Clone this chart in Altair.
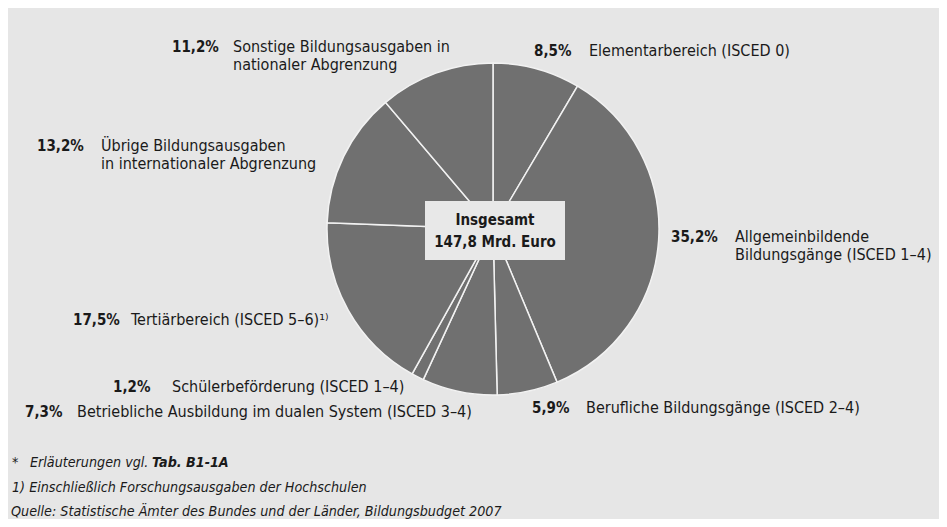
import altair as alt
import pandas as pd

# ---- data ----
categories = [
    "Elementarbereich (ISCED 0)",
    "Allgemeinbildende\nBildungsgänge (ISCED 1–4)",
    "Berufliche Bildungsgänge (ISCED 2–4)",
    "Betriebliche Ausbildung im dualen System (ISCED 3–4)",
    "Schülerbeförderung (ISCED 1–4)",
    "Tertiärbereich (ISCED 5–6)¹⁾",
    "Übrige Bildungsausgaben\n in internationaler Abgrenzung",
    "Sonstige Bildungsausgaben in\nnationaler Abgrenzung",
]
shares = [8.5, 35.2, 5.9, 7.3, 1.2, 17.5, 13.2, 11.2]
pct_labels = ["8,5%", "35,2%", "5,9%", "7,3%", "1,2%", "17,5%", "13,2%", "11,2%"]
total_label = ["Insgesamt", "147,8 Mrd. Euro"]
footnotes = [
    "Erläuterungen vgl.",
    "1) Einschließlich Forschungsausgaben der Hochschulen",
    "Quelle: Statistische Ämter des Bundes und der Länder, Bildungsbudget 2007",
]
footnote_bold = "Tab. B1-1A"

# ---- layout (page pixel positions, converted to chart space by -8) ----
OFF = 8
pct_pos = [(534, 51), (671, 237), (532, 408), (25, 412), (113, 387), (73, 320), (37, 146), (172, 47)]
name_pos = [(589, 51), (735, 237), (586, 408), (77, 412), (172, 387), (131, 320), (101, 146), (233, 47)]
LINE_H = 18
CX, CY, R = 493, 229, 166

FONT = "DejaVu Sans Condensed"
BG = "#e6e6e6"
INK = "#1a1a1a"

pie_df = pd.DataFrame({"cat": categories, "share": shares, "ord": list(range(len(shares)))})

pct_df = pd.DataFrame({
    "t": pct_labels,
    "x": [p[0] - OFF for p in pct_pos],
    "y": [p[1] - OFF for p in pct_pos],
})

rows = []
for name, (x, y) in zip(categories, name_pos):
    for i, line in enumerate(name.split("\n")):
        rows.append({"t": line, "x": x - OFF, "y": y - OFF + i * LINE_H})
name_df = pd.DataFrame(rows)

pie = alt.Chart(pie_df).mark_arc(
    outerRadius=R, stroke="#f2f2f2", strokeWidth=1.5, color="#707070"
).encode(
    theta=alt.Theta("share:Q", stack=True),
    order=alt.Order("ord:Q"),
    x=alt.value(CX - OFF),
    y=alt.value(CY - OFF),
)

pct_text = alt.Chart(pct_df).mark_text(
    align="left", baseline="middle", font=FONT, fontSize=15, fontWeight="bold", color=INK
).encode(x=alt.X("x:Q", scale=None), y=alt.Y("y:Q", scale=None), text="t:N")

name_text = alt.Chart(name_df).mark_text(
    align="left", baseline="middle", font=FONT, fontSize=16, color=INK
).encode(x=alt.X("x:Q", scale=None), y=alt.Y("y:Q", scale=None), text="t:N")

box = alt.Chart(pd.DataFrame({"a": [0]})).mark_rect(color="#e8e8e8").encode(
    x=alt.value(425 - OFF), x2=alt.value(565 - OFF),
    y=alt.value(201 - OFF), y2=alt.value(260 - OFF),
)

total_df = pd.DataFrame({"t": total_label, "x": [495 - OFF] * 2, "y": [220 - OFF, 242 - OFF]})
total_text = alt.Chart(total_df).mark_text(
    align="center", baseline="middle", font=FONT, fontSize=15, fontWeight="bold", color=INK
).encode(x=alt.X("x:Q", scale=None), y=alt.Y("y:Q", scale=None), text="t:N")

fn_df = pd.DataFrame({
    "t": ["*"] + footnotes,
    "x": [12 - OFF, 30 - OFF, 12 - OFF, 11 - OFF],
    "y": [463 - OFF, 463 - OFF, 488 - OFF, 512 - OFF],
})
fn_text = alt.Chart(fn_df).mark_text(
    align="left", baseline="middle", font=FONT, fontSize=14.2, fontStyle="italic", color=INK
).encode(x=alt.X("x:Q", scale=None), y=alt.Y("y:Q", scale=None), text="t:N")

fnb_df = pd.DataFrame({"t": [footnote_bold], "x": [152 - OFF], "y": [463 - OFF]})
fnb_text = alt.Chart(fnb_df).mark_text(
    align="left", baseline="middle", font=FONT, fontSize=14.2, fontStyle="italic",
    fontWeight="bold", color=INK
).encode(x=alt.X("x:Q", scale=None), y=alt.Y("y:Q", scale=None), text="t:N")

chart = alt.layer(pie, box, total_text, pct_text, name_text, fn_text, fnb_text).properties(
    width=931, height=511, autosize=alt.AutoSizeParams(type="none"), padding=0,
    background=BG,
).configure_view(stroke=None)

chart.save("out.html", embed_options={"renderer": "svg", "actions": False})
